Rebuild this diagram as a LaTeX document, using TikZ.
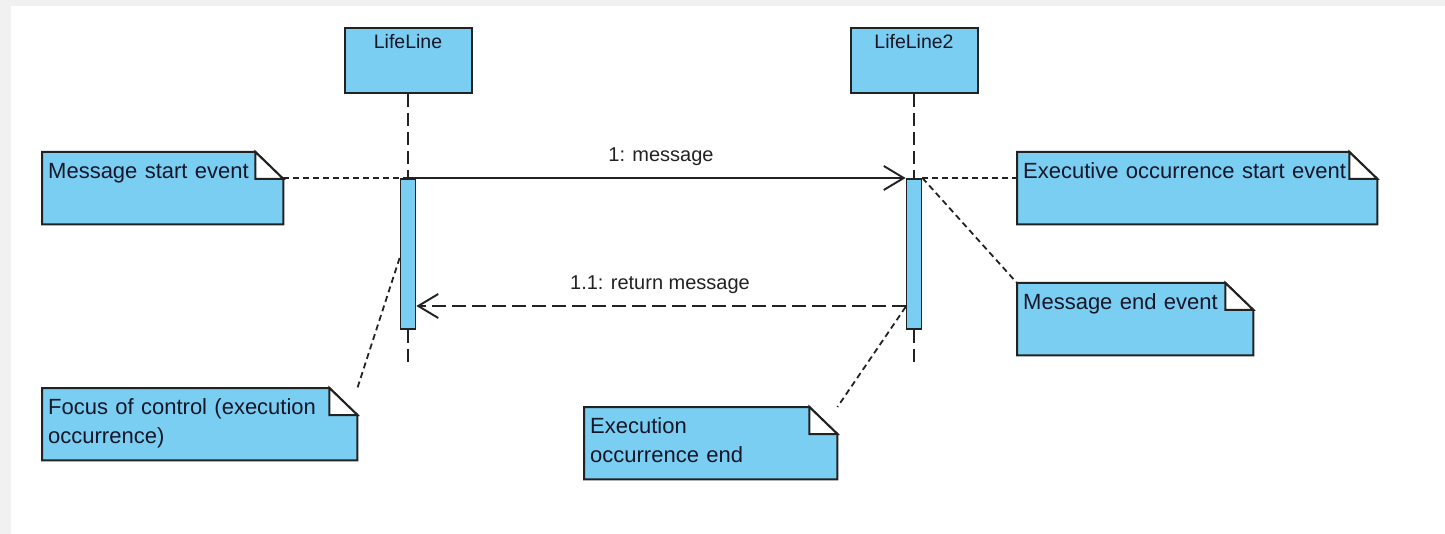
\documentclass[tikz,border=0pt]{standalone}
\usepackage{fontspec}
\setmainfont{Liberation Sans}
\usetikzlibrary{
arrows.meta,
backgrounds,
calc
}
\definecolor{umlblue}{RGB}{122,206,242}
\definecolor{umlline}{RGB}{34,34,34}
\definecolor{umltext}{RGB}{22,22,40}
\definecolor{pagegray}{RGB}{241,241,241}

\begin{document}
\begin{tikzpicture}[
        x=1pt,
        y=-1pt,
        lifeline head/.style={
          draw=umlline,
          fill=umlblue,
          line width=2pt,
          anchor=north,
          minimum width=127pt,
          inner sep=0pt,
          text height=21pt,
          text depth=44pt,
          font=\fontsize{19.5}{23}\selectfont,
          text=umltext,
        },
        activation/.style={
          draw=umlline,
          fill=umlblue,
          line width=1.8pt,
          anchor=north,
          minimum width=15pt,
          minimum height=150pt,
          inner sep=0pt,
        },
        lifeline/.style={
          umlline,
          line width=1.9pt,
          dash pattern=on 13pt off 6pt,
        },
        message/.style={
          umlline,
          line width=1.9pt,
          -{Straight Barb[length=20pt,width=24pt,line width=1.9pt]},
        },
        reply/.style={
          message,
          dash pattern=on 14pt off 6pt,
        },
        message label/.style={
          anchor=base,
          inner sep=0pt,
          font=\fontsize{20}{24}\selectfont,
          text=umlline,
        },
        umlnote/.style={
          anchor=north west,
          align=left,
          text width=#1,
          inner xsep=6pt,
          inner ysep=0pt,
          text height=26pt,
          text depth=46pt,
          font=\fontsize{22}{29.5}\selectfont,
          text=umltext,
        },
        note body/.style={
          draw=umlline,
          fill=umlblue,
          line width=2pt,
          line join=miter,
        },
        note link/.style={
          umlline,
          line width=1.8pt,
          dash pattern=on 6pt off 4pt,
        },
        ]
        \useasboundingbox (0,0) rectangle (1445,534);
        \begin{scope}[on background layer]
          \fill [pagegray] (0,0) rectangle (1445,534);
          \fill [white] (11,6) rectangle (1445,534);
        \end{scope}

        \path
        node [lifeline head] (ll1) at (408,27) {LifeLine}
        node [lifeline head] (ll2) at (914,27) {LifeLine2}
        node [activation] (act1) at (408,178) {}
        node [activation] (act2) at (914,178) {}
        coordinate (ll1-end) at (408,365)
        coordinate (ll2-end) at (914,365);

        \path
        node [umlnote=229pt] (mse) at (42,152) {Message start event}
        node [umlnote=348pt] (eos) at (1017,152) {Executive occurrence start event}
        node [umlnote=224pt] (mee) at (1017,283) {Message end event}
        node [umlnote=303pt] (foc) at (42,388) {Focus of control (execution\\occurrence)}
        node [umlnote=241pt] (eoe) at (584,407) {Execution\\occurrence end};

        \path
        node [message label] (msg-label) at (661,162) {1: message}
        node [message label] (reply-label) at (660,290) {1.1: return message};

        \begin{scope}[on background layer]
          \foreach \n in {mse,eos,mee,foc,eoe} {
            \filldraw [note body] (\n.north west) -- ([xshift=-28pt]\n.north east)
              -- ([yshift=-27pt]\n.north east) -- (\n.south east) -- (\n.south west) -- cycle;
            \filldraw [note body, fill=white] ([xshift=-28pt]\n.north east)
              -- ([xshift=-28pt,yshift=-27pt]\n.north east) -- ([yshift=-27pt]\n.north east) -- cycle;
          }
        \end{scope}

        \draw [lifeline] (ll1.south) -- (act1.north);
        \draw [lifeline] (act1.south) -- (ll1-end);
        \draw [lifeline] (ll2.south) -- (act2.north);
        \draw [lifeline] (act2.south) -- (ll2-end);

        \draw [note link] ([yshift=-26pt]mse.north east) -- (act1.north);
        \draw [note link] (act2.north east) -- ([yshift=-26pt]eos.north west);
        \draw [note link] (act2.north east) -- (mee.north west);
        \draw [note link] ([yshift=-129pt]act2.north west) -- (eoe.north east);
        \draw [note link] ([yshift=-80pt]act1.north west) -- (foc.north east);

        \draw [message] (act1.north) -- (act2.north west);
        \draw [reply] ([yshift=-128pt]act2.north west) -- ([yshift=-128pt]act1.north east);
      \end{tikzpicture}
\end{document}
